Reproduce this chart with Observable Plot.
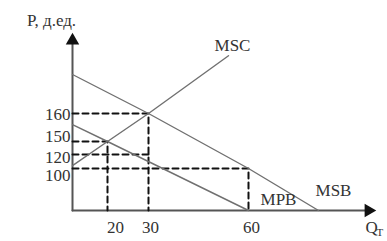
<!DOCTYPE html>
<html><head><meta charset="utf-8">
<script src="https://cdn.jsdelivr.net/npm/d3@7"></script>
<script src="https://cdn.jsdelivr.net/npm/@observablehq/plot@0.6"></script>
<style>body{margin:0;background:#fff;overflow:hidden}</style>
</head><body><div id="chart"></div>
<script>
// Tick labels
const xTicks = [20, 30, 60];
const yTicks = [100, 120, 150, 160];
// Curves (schematic values)
const msb = [{q:0,p:200},{q:30,p:160},{q:60,p:100},{q:74,p:0}];
const mpb = [{q:0,p:156},{q:20,p:150},{q:60,p:0}];
const msc = [{q:0,p:104},{q:20,p:150},{q:30,p:160},{q:54,p:216}];
// Dashed guide lines
const guide160 = [{q:0,p:160},{q:30,p:160},{q:30,p:0}];
const guide150 = [{q:0,p:150},{q:20,p:150},{q:20,p:0}];
const guide120 = [{q:0,p:120},{q:30,p:120},{q:30,p:116}];
const guide100 = [{q:0,p:100},{q:60,p:100},{q:60,p:0}];
const axisEnds = {q:84, p:229};

const yNudge = {160:1, 150:-5, 120:3, 100:7};
const xNudge = {20:8, 30:2, 60:3};

const serif = "Times New Roman, Liberation Serif, serif";
const curveStyle = {x:"q", y:"p", stroke:"#707070", strokeWidth:1.4};
const dashStyle = {x:"q", y:"p", stroke:"#111", strokeWidth:2, strokeDasharray:"6,4"};
const txt = {fill:"#333", fontFamily:serif};

const marks = [
  Plot.line([{q:0,p:0},{q:0,p:axisEnds.p}], {x:"q", y:"p", stroke:"#555", strokeWidth:2}),
  Plot.line([{q:0,p:0},{q:axisEnds.q,p:0}], {x:"q", y:"p", stroke:"#555", strokeWidth:2}),
  Plot.dot([{q:0,p:axisEnds.p}], {x:"q", y:"p", symbol:"triangle", r:5, fill:"#111", stroke:null}),
  Plot.dot([{q:axisEnds.q,p:0}], {x:"q", y:"p", symbol:"triangle", r:5, rotate:90, fill:"#111", stroke:null}),
  Plot.line(guide160, dashStyle),
  Plot.line(guide150, dashStyle),
  Plot.line(guide120, dashStyle),
  Plot.line(guide100, dashStyle),
  Plot.line(msb, curveStyle),
  Plot.line(mpb, curveStyle),
  Plot.line(msc, curveStyle),
  ...yTicks.map(v => Plot.text([v], {x:0, y:d=>d, text:d=>String(d), textAnchor:"end", dx:-2, dy:yNudge[v], ...txt})),
  ...xTicks.map(v => Plot.text([v], {x:d=>d, y:0, text:d=>String(d), dx:xNudge[v], dy:17, ...txt})),
  Plot.text(["P, д.ед."], {x:0, y:axisEnds.p, text:d=>d, dx:-21, dy:-20, ...txt}),
  Plot.text(["MSC"], {x:msc[msc.length-1].q, y:msc[msc.length-1].p, text:d=>d, dx:4, dy:-10, ...txt}),
  Plot.text(["MSB"], {x:msb[msb.length-1].q, y:0, text:d=>d, dx:15, dy:-20, ...txt}),
  Plot.text(["MPB"], {x:60, y:0, text:d=>d, dx:30, dy:-11, ...txt}),
  Plot.text(["Q"], {x:axisEnds.q, y:0, text:d=>d, textAnchor:"start", dx:-3, dy:17, ...txt}),
  Plot.text(["T"], {x:axisEnds.q, y:0, text:d=>d, textAnchor:"start", dx:8, dy:22, fontSize:11, ...txt})
];

const chart = Plot.plot({
  width: 387, height: 241,
  x: {type:"linear", domain:[0,20,30,60,85], range:[72,107,148,248,373], axis:null},
  y: {type:"linear", domain:[0,100,120,150,160,200,235], range:[210,168,154,141,113,74,33], axis:null},
  style: {fontFamily:serif, fontSize:"17px", background:"#fff", overflow:"visible"},
  marks
});
chart.querySelectorAll("text").forEach(t => t.style.fontFamily = "'Liberation Serif', 'DejaVu Serif', serif");
document.getElementById("chart").append(chart);
</script>
</body></html>
